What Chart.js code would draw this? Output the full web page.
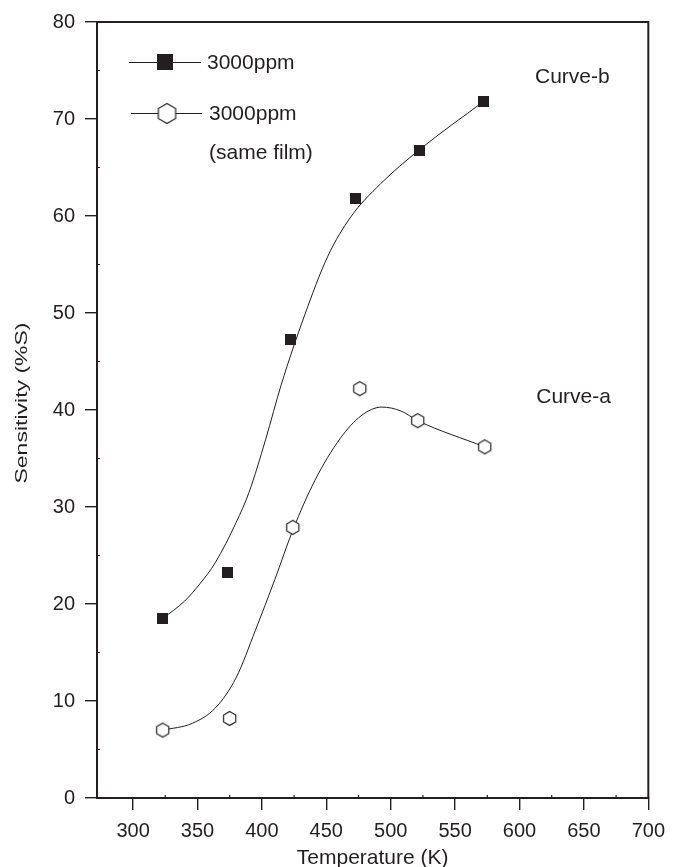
<!DOCTYPE html>
<html>
<head>
<meta charset="utf-8">
<script src="https://cdn.jsdelivr.net/npm/chart.js@4.4.0/dist/chart.umd.min.js"></script>
<style>
html,body{margin:0;padding:0;background:#ffffff;}
canvas{display:block;}
</style>
</head>
<body>
<canvas id="c" width="674" height="867"></canvas>
<script>
// ---------- data ----------
const xTickValues = [300, 350, 400, 450, 500, 550, 600, 650, 700];
const yTickValues = [0, 10, 20, 30, 40, 50, 60, 70, 80];

// Curve-b : filled squares
const tempB = [323, 373, 422, 473, 522, 572];
const sensB = [18.5, 23.2, 47.3, 61.8, 66.8, 71.8];
// Curve-a : open hexagons (same film)
const tempA = [323, 375, 424, 476, 521, 573];
const sensA = [7.0, 8.2, 27.9, 42.2, 38.9, 36.2];

// fitted (smoothed) curves
const fitTempB = [323, 340, 352, 364, 380, 390, 403, 415, 433, 451, 469, 492, 522, 572];
const fitSensB = [18.5, 20.3, 22.1, 24.3, 28.4, 31.5, 37.0, 42.6, 49.7, 55.8, 59.9, 63.3, 66.8, 71.8];
const fitTempA = [323, 346, 364, 380, 395, 410, 424, 441, 461, 477, 493, 508, 521, 573];
const fitSensA = [7.0, 7.7, 9.3, 12.4, 17.3, 22.5, 27.6, 32.7, 37.1, 39.4, 40.3, 39.9, 38.9, 36.2];

const seriesNames = ['3000ppm', '3000ppm'];
const legendNote = '(same film)';
const curveNames = ['Curve-b', 'Curve-a'];
const xTitle = 'Temperature (K)';
const yTitle = 'Sensitivity (%S)';

// ---------- styling ----------
const ink = '#231f20';
const FONT = '"Liberation Sans", Arial, Helvetica, sans-serif';

function hexCanvas(r, lw) {
  const s = Math.ceil(2 * r + 2 * lw + 2);
  const c = document.createElement('canvas');
  c.width = s; c.height = s;
  const g = c.getContext('2d');
  g.beginPath();
  for (let i = 0; i < 6; i++) {
    const a = -Math.PI / 2 + i * Math.PI / 3;
    const px = s / 2 + r * Math.cos(a), py = s / 2 + r * Math.sin(a);
    if (i) g.lineTo(px, py); else g.moveTo(px, py);
  }
  g.closePath();
  g.fillStyle = '#ffffff'; g.fill();
  g.lineWidth = lw; g.strokeStyle = ink; g.stroke();
  return c;
}
function squareCanvas(side) {
  const c = document.createElement('canvas');
  c.width = side; c.height = side;
  const g = c.getContext('2d');
  g.fillStyle = ink; g.fillRect(0, 0, side, side);
  return c;
}
const sqMark = squareCanvas(11);
const hexMark = hexCanvas(7, 1.2);

const toPts = (xs, ys) => xs.map((x, i) => ({ x: x, y: ys[i] }));

// ---------- decorations plugin ----------
const deco = {
  id: 'deco',
  afterDraw(chart) {
    const { ctx, chartArea: a, scales: { x, y } } = chart;
    ctx.save();
    // top and right frame
    ctx.strokeStyle = ink; ctx.lineWidth = 2;
    ctx.beginPath();
    ctx.moveTo(a.left, a.top); ctx.lineTo(a.right, a.top); ctx.lineTo(a.right, a.bottom);
    ctx.stroke();
    // minor ticks (inward)
    ctx.lineWidth = 1.2;
    ctx.beginPath();
    for (let v = 325; v < 700; v += 50) {
      const px = x.getPixelForValue(v);
      ctx.moveTo(px, a.bottom); ctx.lineTo(px, a.bottom - 3);
    }
    for (let v = 5; v < 80; v += 10) {
      const py = y.getPixelForValue(v);
      ctx.moveTo(a.left, py); ctx.lineTo(a.left + 3, py);
    }
    ctx.stroke();

    // y axis title (condensed look)
    ctx.fillStyle = ink;
    ctx.save();
    ctx.translate(22, (a.top + a.bottom) / 2 - 7);
    ctx.rotate(-Math.PI / 2);
    ctx.scale(1, 0.74);
    ctx.font = '23px ' + FONT;
    ctx.textAlign = 'center'; ctx.textBaseline = 'middle';
    ctx.fillText(yTitle, 0, 0);
    ctx.restore();

    // legend
    ctx.font = '21px ' + FONT;
    ctx.textAlign = 'left'; ctx.textBaseline = 'middle';
    ctx.lineWidth = 1;
    const l = a.left;
    // entry 1
    ctx.beginPath(); ctx.moveTo(l + 32, 62.5); ctx.lineTo(l + 104, 62.5); ctx.stroke();
    ctx.fillRect(l + 60, 54, 16, 16);
    ctx.fillText(seriesNames[0], l + 110, 63);
    // entry 2
    ctx.beginPath(); ctx.moveTo(l + 34, 113.5); ctx.lineTo(l + 105, 113.5); ctx.stroke();
    const big = hexCanvas(10, 1.2);
    ctx.drawImage(big, l + 70 - big.width / 2, 113.5 - big.height / 2);
    ctx.fillText(seriesNames[1], l + 112, 114);
    ctx.fillText(legendNote, l + 112, 153);

    // curve names
    ctx.fillText(curveNames[0], x.getPixelForValue(612), y.getPixelForValue(74.3));
    ctx.fillText(curveNames[1], x.getPixelForValue(613), y.getPixelForValue(41.3));
    ctx.restore();
  }
};

new Chart(document.getElementById('c'), {
  type: 'scatter',
  data: {
    datasets: [
      { label: seriesNames[0], data: toPts(tempB, sensB), pointStyle: sqMark, pointRadius: 6,
        showLine: false, clip: false },
      { label: seriesNames[1], data: toPts(tempA, sensA), pointStyle: hexMark, pointRadius: 7,
        showLine: false, clip: false },
      { label: 'fit-b', data: toPts(fitTempB, fitSensB), showLine: true, pointRadius: 0,
        borderColor: ink, borderWidth: 1, cubicInterpolationMode: 'monotone', fill: false },
      { label: 'fit-a', data: toPts(fitTempA, fitSensA), showLine: true, pointRadius: 0,
        borderColor: ink, borderWidth: 1, cubicInterpolationMode: 'monotone', fill: false }
    ]
  },
  options: {
    responsive: false,
    animation: false,
    events: [],
    devicePixelRatio: 1,
    layout: { padding: { left: 0, top: 20, right: 21, bottom: 0 } },
    plugins: { legend: { display: false }, tooltip: { enabled: false } },
    scales: {
      x: {
        type: 'linear', min: 272, max: 700,
        afterBuildTicks(s) { s.ticks = xTickValues.map(v => ({ value: v })); },
        ticks: { color: ink, font: { family: FONT, size: 20 }, padding: 9, maxRotation: 0, autoSkip: false },
        grid: { drawOnChartArea: false, drawTicks: true, tickLength: 12, color: ink, lineWidth: 1.4 },
        border: { color: ink, width: 2 },
        title: { display: true, text: xTitle, color: ink, font: { family: FONT, size: 21, lineHeight: 1 },
                 padding: { top: 0, bottom: -2 } },
        afterFit(s) { s.height = 69; }
      },
      y: {
        type: 'linear', min: 0, max: 80,
        afterBuildTicks(s) { s.ticks = yTickValues.map(v => ({ value: v })); },
        ticks: { color: ink, font: { family: FONT, size: 20 }, padding: 10, autoSkip: false },
        grid: { drawOnChartArea: false, drawTicks: true, tickLength: 12, color: ink, lineWidth: 1.4 },
        border: { color: ink, width: 2 },
        afterFit(s) { s.width = 97; }
      }
    }
  },
  plugins: [deco]
});
</script>
</body>
</html>
